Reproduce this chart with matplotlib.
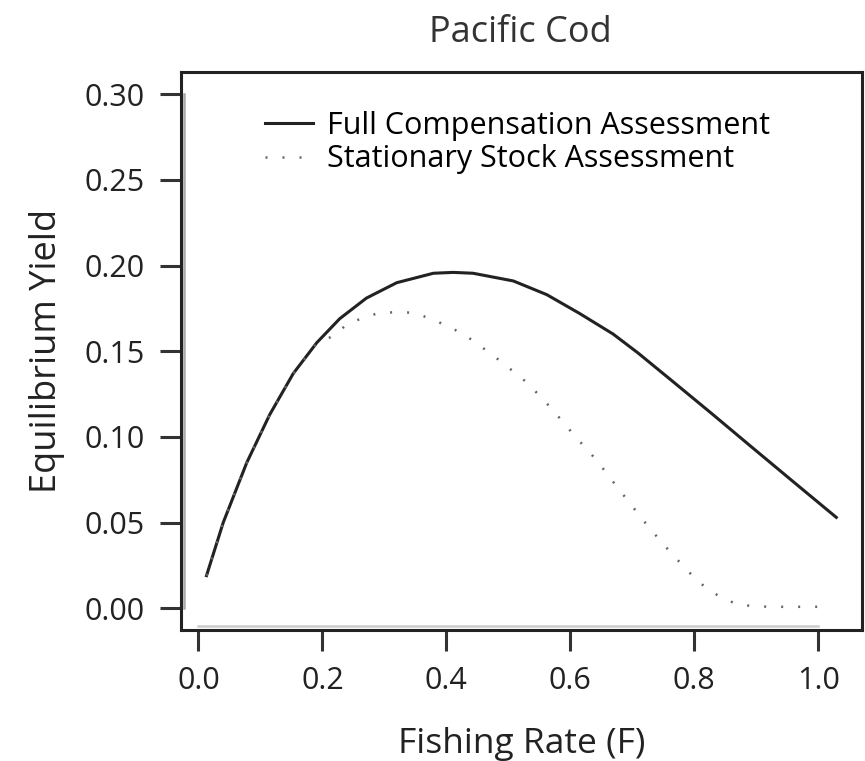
import matplotlib.pyplot as plt

plt.rcParams['font.family'] = ['Open Sans', 'DejaVu Sans']

# fishing rate and equilibrium yield
F_full = [0.013, 0.040, 0.078, 0.115, 0.153, 0.191, 0.228, 0.271, 0.320, 0.379, 0.411,
          0.443, 0.508, 0.562, 0.615, 0.669, 0.709, 0.763, 0.828, 0.890, 0.959, 1.029]
full_comp = [0.019, 0.050, 0.085, 0.113, 0.137, 0.155, 0.169, 0.181, 0.190, 0.1955, 0.196,
             0.1955, 0.191, 0.183, 0.172, 0.160, 0.149, 0.133, 0.1136, 0.0948, 0.074, 0.053]

F_stat = [0.013, 0.040, 0.078, 0.115, 0.153, 0.191, 0.218, 0.239, 0.266, 0.293, 0.320,
          0.346, 0.370, 0.397, 0.423, 0.445, 0.488, 0.531, 0.569, 0.606, 0.642, 0.676,
          0.727, 0.763, 0.802, 0.822, 0.846, 0.873, 0.92, 0.96, 1.010]
stationary = [0.019, 0.050, 0.085, 0.113, 0.137, 0.1545, 0.159, 0.1655, 0.1696, 0.1725, 0.1727,
              0.1725, 0.1696, 0.1655, 0.1608, 0.1557, 0.144, 0.1314, 0.1168, 0.101, 0.0865, 0.0705,
              0.047, 0.032, 0.017, 0.011, 0.0057, 0.0018, 0.0008, 0.0008, 0.0008]

xticks = [0.0, 0.2, 0.4, 0.6, 0.8, 1.0]
yticks = [0.00, 0.05, 0.10, 0.15, 0.20, 0.25, 0.30]

fig = plt.figure(figsize=(8.65, 7.61), dpi=100)
ax = fig.add_axes([0.2092, 0.172, 0.787, 0.733])

ax.plot(F_full, full_comp, color='#222222', lw=2.2, label='Full Compensation Assessment')
ax.plot(F_stat, stationary, color='#666666', lw=1.8, linestyle=(0, (0.8, 6)),
        label='Stationary Stock Assessment')

ax.set_xlim(-0.0282, 1.070)
ax.set_ylim(-0.0128, 0.3128)
ax.set_xticks(xticks)
ax.set_xticklabels([f"{v:.1f}" for v in xticks])
ax.set_yticks(yticks)
ax.set_yticklabels([f"{v:.2f}" for v in yticks])

for s in ax.spines.values():
    s.set_linewidth(2.2)
    s.set_color('#222222')
ax.tick_params(length=15, width=2.2, color='#333333', labelsize=22, pad=11, labelcolor='#222222')

# R-style axis lines running between the end ticks
ax.plot([-0.0234, -0.0234], [0, 0.3], color='#aaaaaa', lw=1.8, clip_on=False)
ax.plot([0, 1.0], [-0.0105, -0.0105], color='#cccccc', lw=1.8, clip_on=False)

ax.set_xlabel('Fishing Rate (F)', fontsize=25.5, labelpad=22, color='#222222')
ax.set_ylabel('Equilibrium Yield', fontsize=26, labelpad=14, color='#222222')
fig.text(0.602, 0.956, 'Pacific Cod', ha='center', va='center', fontsize=26, color='#333333')

ax.legend(loc='upper left', bbox_to_anchor=(0.123, 0.931), frameon=False, fontsize=22,
          borderpad=0, borderaxespad=0, handlelength=1.57, handletextpad=0.46,
          labelspacing=0.12)

plt.savefig('out.png', dpi=100)
